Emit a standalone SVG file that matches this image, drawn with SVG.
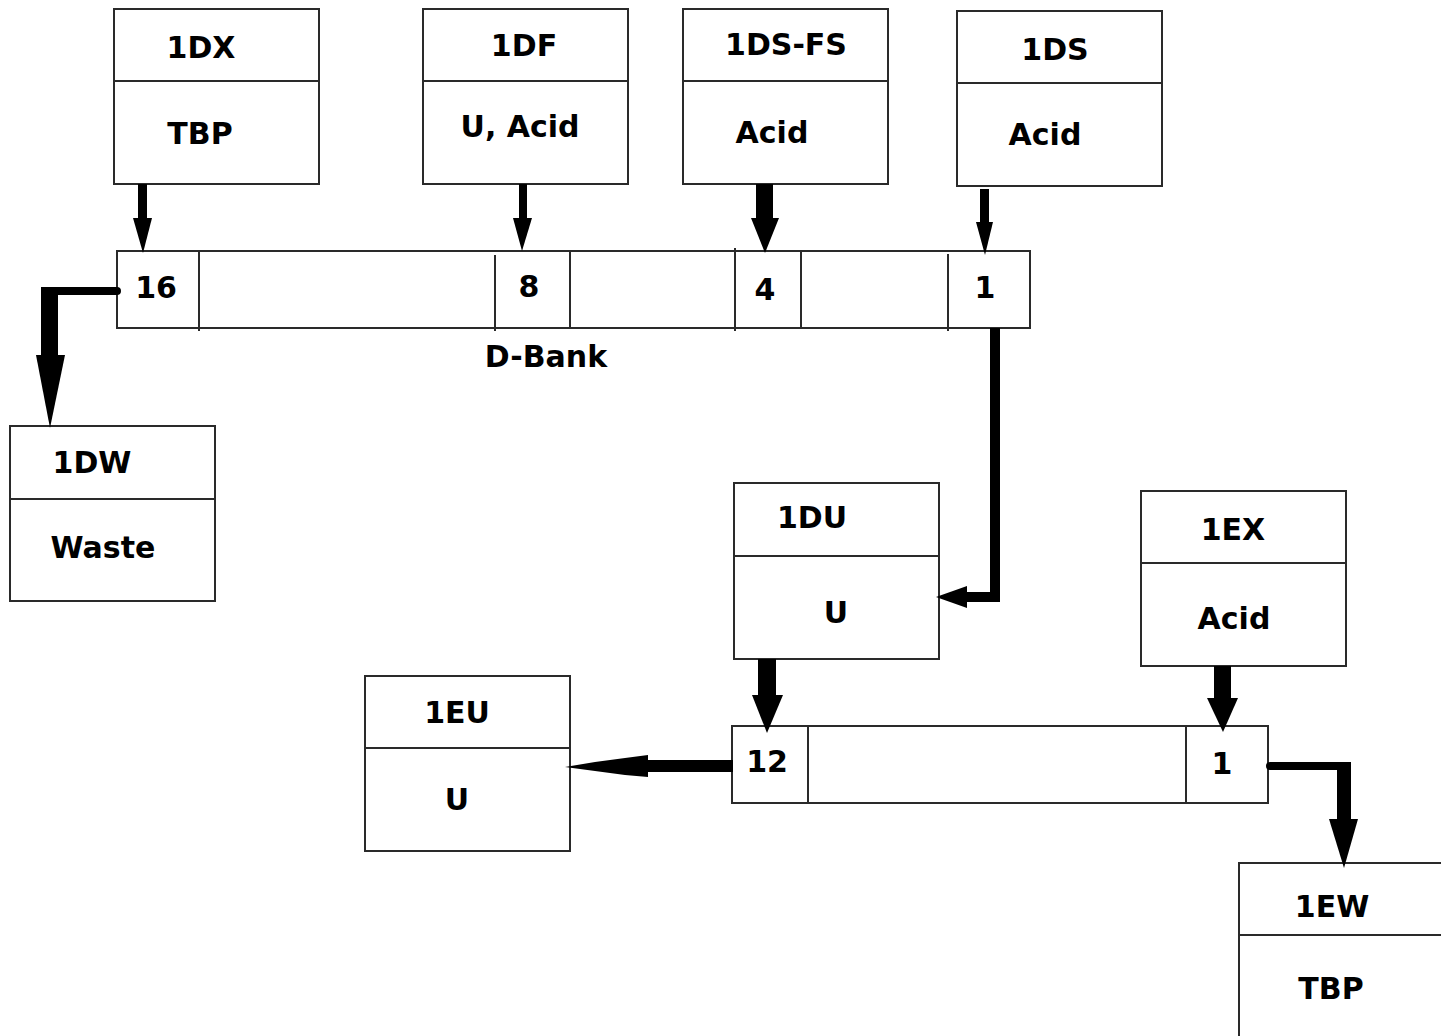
<svg xmlns="http://www.w3.org/2000/svg" width="1441" height="1036" viewBox="0 0 1441 1036">
<style>
.box{fill:#fff;stroke:#2a2a2a;stroke-width:2}
.ln{stroke:#2a2a2a;stroke-width:2;fill:none}
.t{font-family:"DejaVu Sans",Verdana,sans-serif;font-weight:bold;font-size:30px;fill:#000;text-anchor:middle}
.a{fill:#000;stroke:none}
</style>
<rect width="1441" height="1036" fill="#fff"/>
<g id="n1DX"><rect class="box" x="114" y="9" width="205" height="175"/><line class="ln" x1="114" y1="81" x2="319" y2="81"/><text class="t" x="201" y="58">1DX</text><text class="t" x="200" y="144">TBP</text></g>
<g id="n1DF"><rect class="box" x="423" y="9" width="205" height="175"/><line class="ln" x1="423" y1="81" x2="628" y2="81"/><text class="t" x="524" y="56">1DF</text><text class="t" x="520" y="137">U, Acid</text></g>
<g id="n1DSFS"><rect class="box" x="683" y="9" width="205" height="175"/><line class="ln" x1="683" y1="81" x2="888" y2="81"/><text class="t" x="786" y="55">1DS-FS</text><text class="t" x="772" y="143">Acid</text></g>
<g id="n1DS"><rect class="box" x="957" y="11" width="205" height="175"/><line class="ln" x1="957" y1="83" x2="1162" y2="83"/><text class="t" x="1055" y="60">1DS</text><text class="t" x="1045" y="145">Acid</text></g>
<g id="dbank"><rect class="box" x="117" y="251" width="913" height="77"/>
<line class="ln" x1="199" y1="251" x2="199" y2="331"/><line class="ln" x1="495" y1="255" x2="495" y2="331"/><line class="ln" x1="570" y1="251" x2="570" y2="328"/><line class="ln" x1="735" y1="248" x2="735" y2="331"/><line class="ln" x1="801" y1="251" x2="801" y2="328"/><line class="ln" x1="948" y1="254" x2="948" y2="331"/>
<text class="t" x="156" y="298">16</text><text class="t" x="529" y="297">8</text><text class="t" x="765" y="300">4</text><text class="t" x="985" y="298">1</text><text class="t" x="546" y="367">D-Bank</text></g>
<g id="n1DW"><rect class="box" x="10" y="426" width="205" height="175"/><line class="ln" x1="10" y1="499" x2="215" y2="499"/><text class="t" x="92" y="473">1DW</text><text class="t" x="103" y="558">Waste</text></g>
<g id="n1DU"><rect class="box" x="734" y="483" width="205" height="176"/><line class="ln" x1="734" y1="556" x2="939" y2="556"/><text class="t" x="812" y="528">1DU</text><text class="t" x="836" y="623">U</text></g>
<g id="n1EX"><rect class="box" x="1141" y="491" width="205" height="175"/><line class="ln" x1="1141" y1="563" x2="1346" y2="563"/><text class="t" x="1233" y="540">1EX</text><text class="t" x="1234" y="629">Acid</text></g>
<g id="n1EU"><rect class="box" x="365" y="676" width="205" height="175"/><line class="ln" x1="365" y1="748" x2="570" y2="748"/><text class="t" x="457" y="723">1EU</text><text class="t" x="457" y="810">U</text></g>
<g id="ebank"><rect class="box" x="732" y="726" width="536" height="77"/><line class="ln" x1="808" y1="726" x2="808" y2="803"/><line class="ln" x1="1186" y1="726" x2="1186" y2="803"/><text class="t" x="767" y="772">12</text><text class="t" x="1222" y="774">1</text></g>
<g id="n1EW"><rect class="box" x="1239" y="863" width="220" height="190"/><line class="ln" x1="1239" y1="935" x2="1441" y2="935"/><text class="t" x="1332" y="917">1EW</text><text class="t" x="1331" y="999">TBP</text></g>
<g id="connectors">
<rect class="a" x="138" y="184" width="9" height="36"/><polygon class="a" points="133,218 152,218 143,253"/>
<rect class="a" x="519" y="184" width="8" height="36"/><polygon class="a" points="513,218 532,218 522,251"/>
<rect class="a" x="756" y="184" width="17" height="36"/><polygon class="a" points="751,218 779,218 765,253"/>
<rect class="a" x="980" y="189" width="9" height="35"/><polygon class="a" points="976,222 993,222 985,255"/>
<path class="a" d="M41,287 H117 a4,4 0 0 1 0,8 H58 V357 H41 Z"/><polygon class="a" points="36,355 65,355 50,428"/>
<path class="a" d="M990,328 H1000 V602 H965 V592 H990 Z"/><polygon class="a" points="967,586 967,608 936,597"/>
<rect class="a" x="758" y="659" width="18" height="38"/><polygon class="a" points="752,695 783,695 767,733"/>
<rect class="a" x="1214" y="666" width="17" height="34"/><polygon class="a" points="1207,698 1238,698 1223,732"/>
<path class="a" d="M1270,762 H1351 V820 H1337 V770 H1270 a4,4 0 0 1 0,-8 Z"/><polygon class="a" points="1329,819 1358,819 1344,868"/>
<rect class="a" x="645" y="760" width="88" height="12"/><polygon class="a" points="648,755 648,777 625,775 595,771 565,767 595,762 625,758"/>
</g>
</svg>
